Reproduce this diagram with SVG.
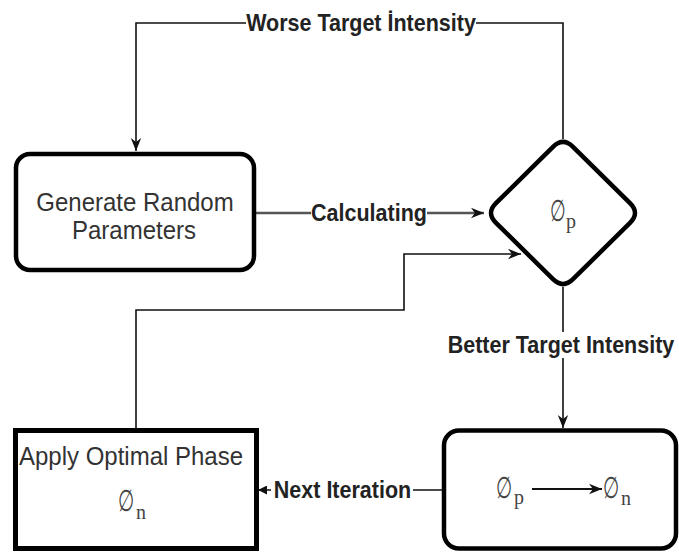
<svg xmlns="http://www.w3.org/2000/svg" width="679" height="552" viewBox="0 0 679 552">
  <defs>
    <marker id="arrow" viewBox="0 0 10 10" markerUnits="userSpaceOnUse" markerWidth="13" markerHeight="13" refX="10" refY="5" orient="auto">
      <path d="M0,1 L10,5 L0,9 L3,5 Z" fill="#111"/>
    </marker>
    <marker id="tri" viewBox="0 0 10 10" markerUnits="userSpaceOnUse" markerWidth="9" markerHeight="9" refX="10" refY="5" orient="auto">
      <path d="M0,0 L10,5 L0,10 Z" fill="#111"/>
    </marker>
    <style>
      .node { fill: #fff; stroke: #000; stroke-width: 4.5; }
      .txt { font-family: "Liberation Sans", Arial, sans-serif; font-size: 24px; fill: #333; text-anchor: middle; }
      .lbl { font-family: "Liberation Sans", Arial, sans-serif; font-size: 21.5px; font-weight: bold; fill: #222; text-anchor: middle; }
      .lblbg { fill: #fff; }
      .edge { fill: none; stroke: #111; stroke-width: 1.6; }
      .edge-gray { fill: none; stroke: #555; stroke-width: 2.5; }
      .sym { font-family: "DejaVu Serif", "Liberation Serif", serif; font-size: 30px; fill: #444; }
      .sub { font-family: "Liberation Serif", "DejaVu Serif", serif; font-size: 20px; fill: #444; }
    </style>
  </defs>

  <rect width="679" height="552" fill="#fff"/>

  <!-- connectors -->
  <g id="connectors">
    <!-- worse result: back to random generation -->
    <path class="edge" d="M563,139 V23 H136 V151" marker-end="url(#arrow)"/>
    <!-- generation to phase check -->
    <path class="edge-gray" d="M256,213 H484" marker-end="url(#arrow)"/>
    <!-- applied phase feeds the next check -->
    <path class="edge" d="M136,428 V310 H404 V254 H521" marker-end="url(#arrow)"/>
    <!-- better result -->
    <path class="edge" d="M563,287 V428" marker-end="url(#arrow)"/>
    <!-- next iteration -->
    <path class="edge" d="M465,490 H258" marker-end="url(#tri)"/>

    <!-- edge labels -->
    <rect class="lblbg" x="246" y="10" width="230" height="26"/>
    <text class="lbl" transform="translate(361,30.5) scale(1,1.1)">Worse Target İntensity</text>
    <rect class="lblbg" x="311" y="200" width="116" height="26"/>
    <text class="lbl" transform="translate(369,220.5) scale(1,1.1)">Calculating</text>
    <rect class="lblbg" x="446" y="332" width="230" height="26"/>
    <text class="lbl" transform="translate(561,353) scale(1,1.1)">Better Target Intensity</text>
    <rect class="lblbg" x="271" y="477" width="142" height="26"/>
    <text class="lbl" transform="translate(342.5,497.5) scale(1,1.1)">Next Iteration</text>
  </g>

  <!-- Generate Random Parameters -->
  <g id="generate">
    <rect class="node" x="16" y="154" width="238" height="116" rx="14"/>
    <text class="txt" transform="translate(135,211) scale(1,1.07)">Generate Random</text>
    <text class="txt" transform="translate(134,239) scale(1,1.07)">Parameters</text>
  </g>

  <!-- decision on phase p -->
  <g id="decision">
    <path class="node" d="M553,146.8 Q563,137 573,146.8 L630,203.2 Q640,213 630,222.8 L573,279.2 Q563,289 553,279.2 L496,222.8 Q486,213 496,203.2 Z"/>
    <text class="sym" transform="translate(550,221) scale(0.6,1)">∅</text>
    <text class="sub" x="566" y="228">p</text>
  </g>

  <!-- Apply Optimal Phase -->
  <g id="apply">
    <rect x="15.5" y="430.5" width="241" height="118" fill="#fff" stroke="#000" stroke-width="5"/>
    <text class="txt" transform="translate(131,465) scale(1,1.07)">Apply Optimal Phase</text>
    <text class="sym" transform="translate(118,511) scale(0.62,1)">∅</text>
    <text class="sub" x="136" y="519">n</text>
  </g>

  <!-- update p to n -->
  <g id="update">
    <rect class="node" x="444" y="430.5" width="232" height="118" rx="15"/>
    <text class="sym" transform="translate(496,498) scale(0.62,1)">∅</text>
    <text class="sub" x="514" y="504">p</text>
    <path d="M532,489 H602" fill="none" stroke="#111" stroke-width="2" marker-end="url(#arrow)"/>
    <text class="sym" transform="translate(603,498) scale(0.62,1)">∅</text>
    <text class="sub" x="621" y="505">n</text>
  </g>
</svg>
